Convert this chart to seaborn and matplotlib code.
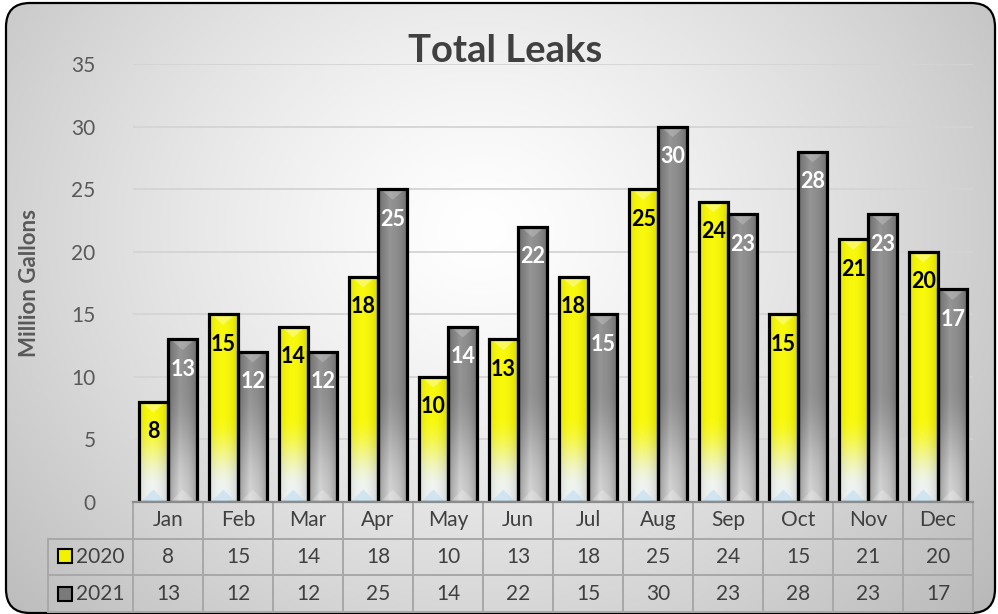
import numpy as np
import pandas as pd
import matplotlib
matplotlib.use("Agg")
import matplotlib.pyplot as plt
import seaborn as sns
from matplotlib.patches import FancyBboxPatch, Polygon, Rectangle
from matplotlib.table import Table

# ---------------- data ----------------
months = ["Jan", "Feb", "Mar", "Apr", "May", "Jun", "Jul", "Aug", "Sep", "Oct", "Nov", "Dec"]
years = ["2020", "2021"]
leaks_2020 = [8, 15, 14, 18, 10, 13, 18, 25, 24, 15, 21, 20]
leaks_2021 = [13, 12, 12, 25, 14, 22, 15, 30, 23, 28, 23, 17]
y_ticks = [0, 5, 10, 15, 20, 25, 30, 35]
title_text = "Total Leaks"
y_label = "Million Gallons"

df = pd.DataFrame({
    "month": months * 2,
    "year": [years[0]] * 12 + [years[1]] * 12,
    "leaks": leaks_2020 + leaks_2021,
})

sns.set_theme(style="white")
plt.rcParams["font.family"] = ["Lato", "DejaVu Sans"]

W, H = 998, 614
fig = plt.figure(figsize=(W / 100, H / 100), dpi=100)
fig.patch.set_facecolor("white")

# ---------------- background (radial gradient, rounded border) ----------------
bg = fig.add_axes([0, 0, 1, 1], zorder=-10)
bg.set_axis_off()
yy, xx = np.mgrid[0:H, 0:W]
d = np.sqrt(((xx - 480) / 620.0) ** 2 + ((yy - 230) / 540.0) ** 2)
v = np.clip(1.0 - 0.25 * d ** 1.3, 0.72, 1.0)
img = np.dstack([v, v, v])
bg.set_xlim(0, W)
bg.set_ylim(H, 0)
im = bg.imshow(img, extent=(0, W, H, 0), aspect="auto", interpolation="bilinear")
frame = FancyBboxPatch((6, 3), 989, 610, boxstyle="round,pad=0,rounding_size=24",
                       facecolor="none", edgecolor="black", linewidth=1.6)
bg.add_patch(frame)
im.set_clip_path(frame)

# ---------------- main axes ----------------
AX_L, AX_R, AX_T, AX_B = 133, 973, 64, 502
ax = fig.add_axes([AX_L / W, (H - AX_B) / H, (AX_R - AX_L) / W, (AX_B - AX_T) / H])
ax.patch.set_alpha(0)

sns.barplot(data=df, x="month", y="leaks", hue="year", order=months, hue_order=years,
            palette=["#ffff00", "#808080"], saturation=1, width=0.84, errorbar=None,
            edgecolor="black", linewidth=2.3, legend=False, ax=ax)


def smooth(t):
    t = np.clip(t, 0, 1)
    return t * t * (3 - 2 * t)


def yellow_grad(h, ny=240, nx=40):
    y = np.linspace(0, h, ny)
    t = smooth((y - 1.0) / 6.0)
    top = np.array([1.0, 1.0, 0.05])
    bot = np.array([0.96, 0.98, 0.97])
    col = bot[None, :] * (1 - t[:, None]) + top[None, :] * t[:, None]
    x = np.linspace(0, 1, nx)
    s = 1.0 - 0.12 * np.abs(2 * x - 1) ** 2 - 0.05 * x
    return np.clip(col[:, None, :] * s[None, :, None], 0, 1)


def gray_grad(h, ny=240, nx=40):
    y = np.linspace(0, h, ny)
    t = smooth((y - 0.3) / 9.0)
    top = np.array([0.52, 0.52, 0.52])
    bot = np.array([0.74, 0.74, 0.74])
    col = bot[None, :] * (1 - t[:, None]) + top[None, :] * t[:, None]
    x = np.linspace(0, 1, nx)
    s = 0.80 + 0.28 * (1 - np.abs(2 * x - 1) ** 2) + 0.05 * np.exp(-((x - 0.4) / 0.08) ** 2)
    return np.clip(col[:, None, :] * s[None, :, None], 0, 1)


for ci, cont in enumerate(ax.containers):
    for bar in cont:
        x0 = bar.get_x()
        w = bar.get_width()
        h = bar.get_height()
        xc = x0 + w / 2
        grad = yellow_grad(h) if ci == 0 else gray_grad(h)
        ax.imshow(grad, extent=(x0, x0 + w, 0, h), origin="lower", aspect="auto",
                  interpolation="bilinear", zorder=3)
        bar.set_facecolor("none")
        bar.set_zorder(4)
        # top bevel
        ax.add_patch(Polygon([(x0 + w * 0.08, h), (x0 + w * 0.92, h), (xc, h - 0.85)],
                             closed=True, facecolor="white", edgecolor="none",
                             alpha=0.35 if ci == 0 else 0.22, zorder=3.5))
        # bottom bevel
        ax.add_patch(Polygon([(x0 + w * 0.08, 0), (x0 + w * 0.92, 0), (xc, 1.0)],
                             closed=True,
                             facecolor="#c4e0f2" if ci == 0 else "white",
                             edgecolor="none",
                             alpha=0.7 if ci == 0 else 0.25, zorder=3.5))
        ax.text(xc, h - 2.4, f"{int(round(h))}", ha="center", va="center",
                fontsize=15.5, fontweight="bold",
                color="black" if ci == 0 else "white", zorder=6)

ax.set_xlim(-0.5, 11.5)
ax.set_ylim(0, 35)
ax.set_yticks(y_ticks)
ax.set_axisbelow(True)
ax.yaxis.grid(True, color="#d4d4d4", linewidth=1.3)
ax.xaxis.grid(False)
for side in ["left", "right", "top"]:
    ax.spines[side].set_visible(False)
ax.spines["bottom"].set_color("#8c8c8c")
ax.spines["bottom"].set_linewidth(1.6)
ax.spines["bottom"].set_zorder(8)
ax.tick_params(axis="x", labelbottom=False, length=0)
ax.tick_params(axis="y", length=0, pad=27, labelsize=15, labelcolor="#595959")
ax.set_xlabel("")
ax.set_ylabel(y_label, fontsize=16, fontweight="bold", color="#595959")
ax.yaxis.set_label_coords(-(AX_L - 40) / (AX_R - AX_L), 0.5)

# ---------------- data table ----------------
ax_w = AX_R - AX_L
ax_h = AX_B - AX_T
TBL_L, TBL_B = 48, 612
# bbox covers only the data cells; row-label column is placed to its left
tbl = Table(ax, bbox=[0, -(TBL_B - AX_B) / ax_h, 1, (TBL_B - AX_B) / ax_h])
col_w = 1.0 / 12
lab_w = (AX_L - TBL_L) / ax_w
row_h = 1.0 / 3
edge = "#a8a8a8"
for j, m in enumerate(months):
    tbl.add_cell(0, j, width=col_w, height=row_h, text=m, loc="center",
                 facecolor="none", edgecolor=edge)
for r, (yr, vals) in enumerate(zip(years, [leaks_2020, leaks_2021]), start=1):
    tbl.add_cell(r, -1, width=lab_w, height=row_h, text=yr, loc="right",
                 facecolor="none", edgecolor=edge)
    for j, val in enumerate(vals):
        tbl.add_cell(r, j, width=col_w, height=row_h, text=str(val), loc="center",
                     facecolor="none", edgecolor=edge)
tbl.auto_set_font_size(False)
for cell in tbl.get_celld().values():
    cell.set_linewidth(1.4)
    cell.get_text().set_fontsize(15)
    cell.get_text().set_color("#404040")
ax.add_table(tbl)

# legend keys in the row-label cells
for fc, yc in [("#f2f200", 556), ("#7a7a7a", 594)]:
    ax.add_patch(Rectangle(((58 - AX_L) / ax_w, -(yc + 7 - AX_B) / ax_h), 14 / ax_w, 14 / ax_h,
                           transform=ax.transAxes, facecolor=fc, edgecolor="black",
                           linewidth=1.5, clip_on=False, zorder=7))

# ---------------- title ----------------
fig.text(505 / W, 1 - 51 / H, title_text, ha="center", va="center",
         fontsize=27.5, fontweight="bold", color="#404040")

fig.savefig("out.png", dpi=100)
